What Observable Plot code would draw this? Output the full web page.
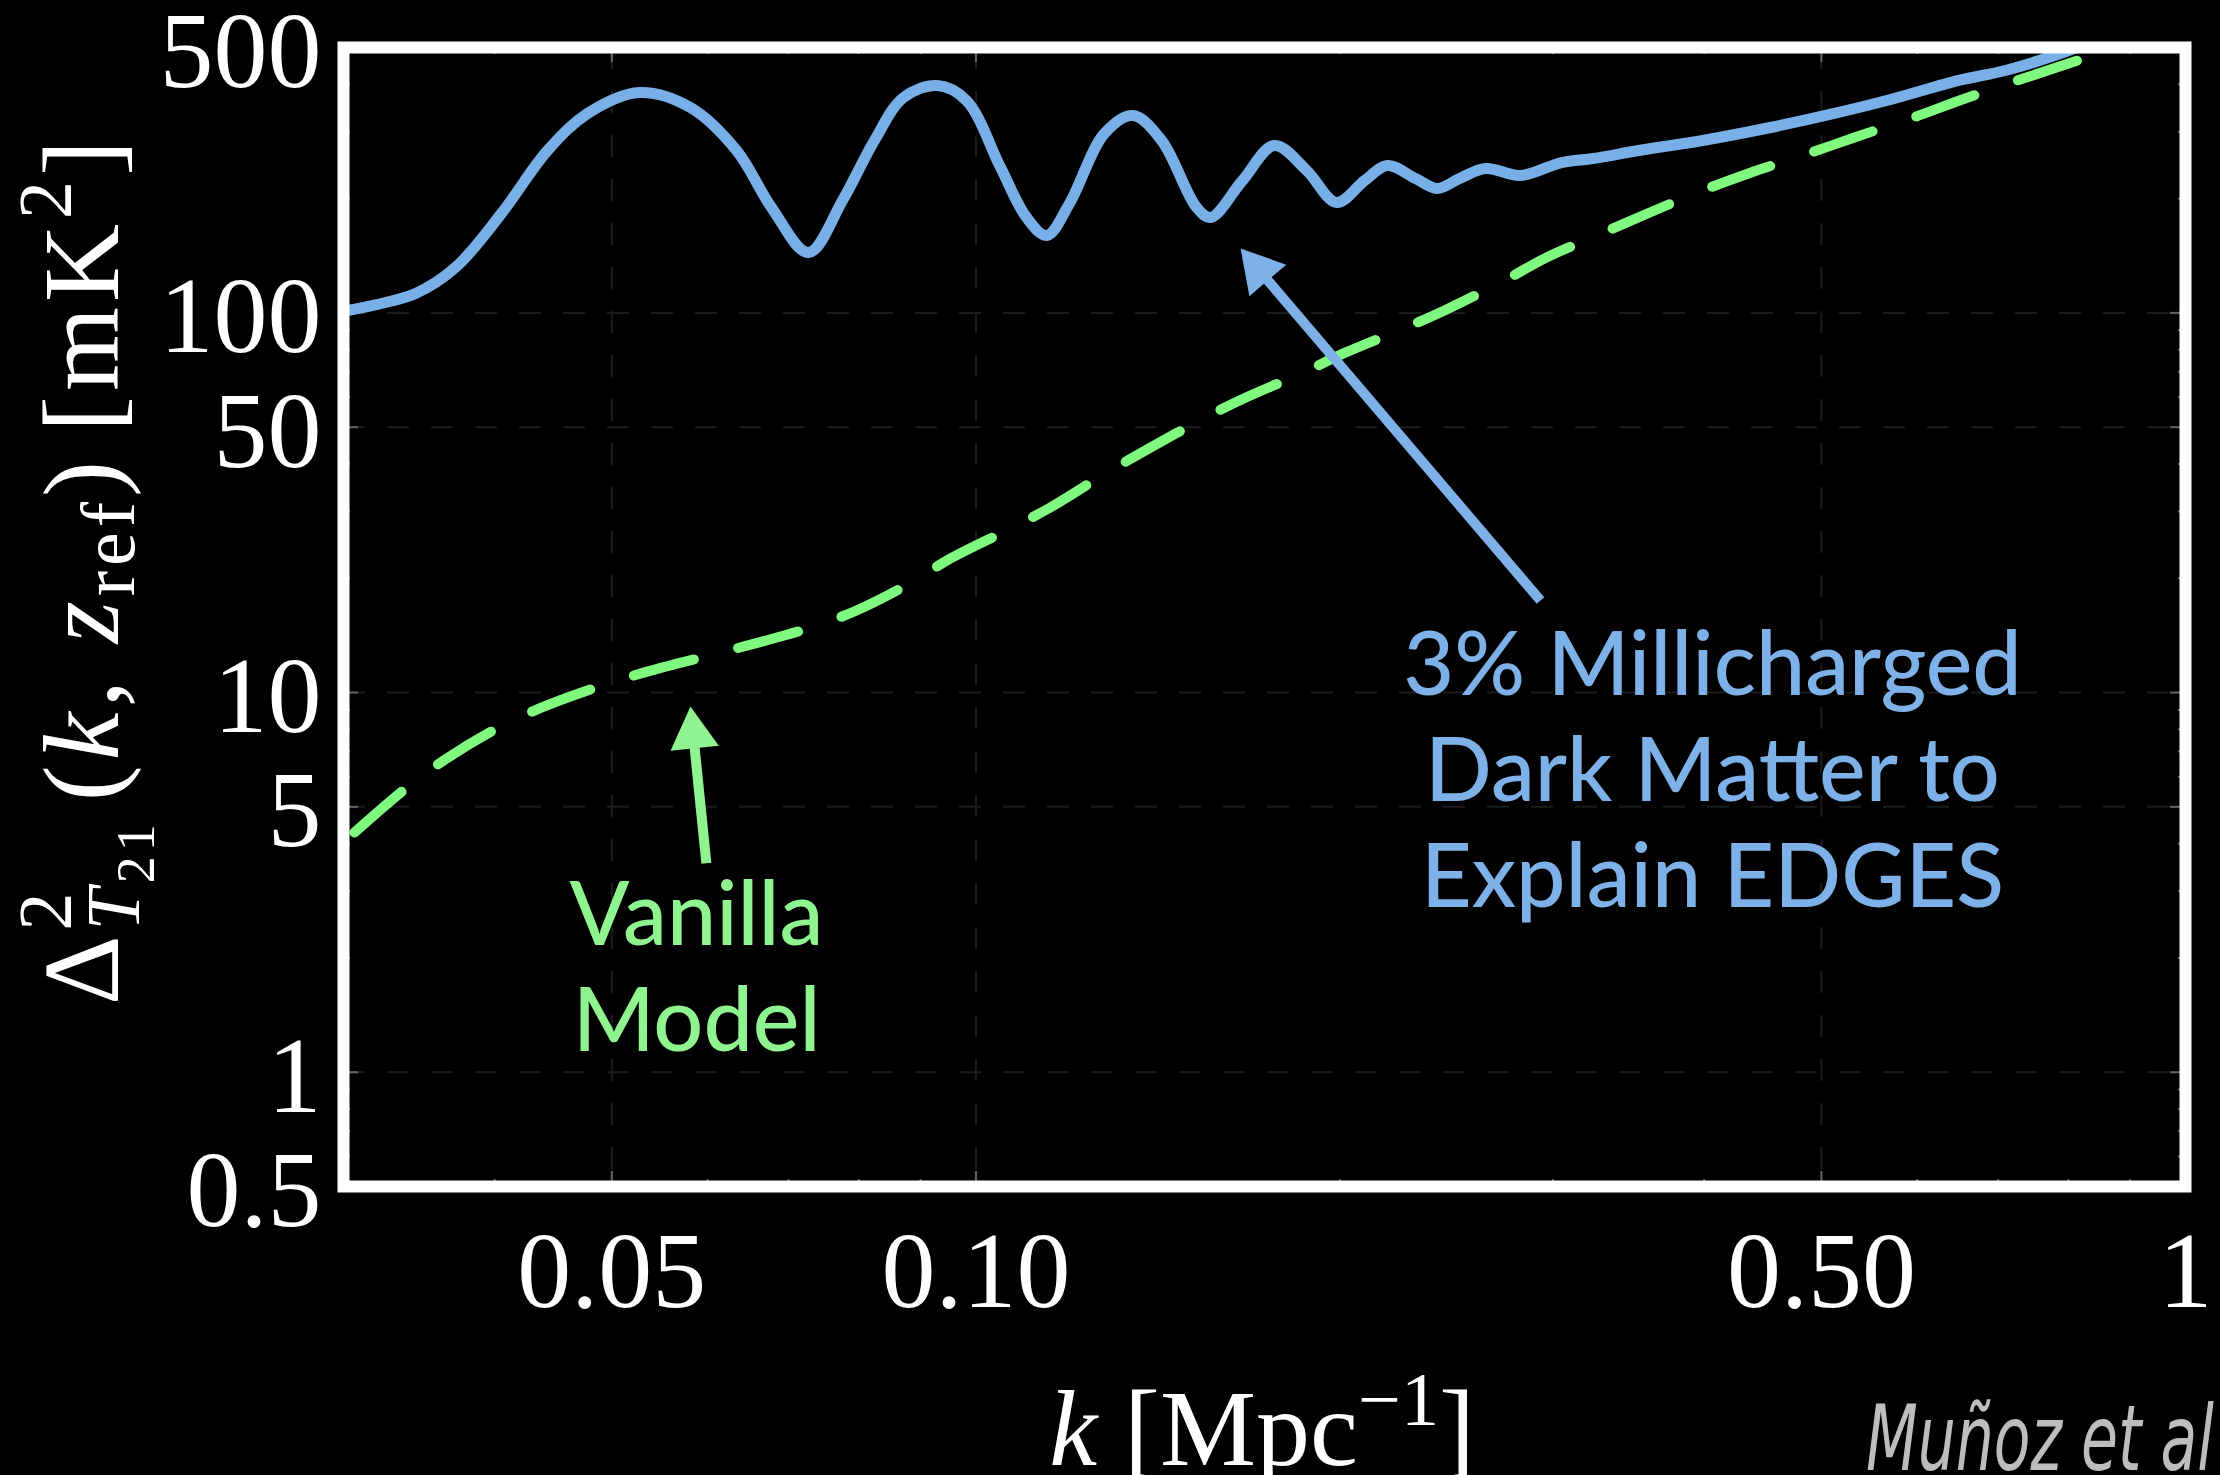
<!DOCTYPE html>
<html><head><meta charset="utf-8">
<script src="https://cdn.jsdelivr.net/npm/d3@7"></script>
<script src="https://cdn.jsdelivr.net/npm/@observablehq/plot@0.6"></script>
<style>html,body{margin:0;padding:0;background:#000;} #chart{width:2220px;height:1475px;overflow:hidden;}</style>
</head><body><div id="chart"></div>
<script>
// ---- data ----
const blueK = [0.03, 0.03441, 0.03713, 0.04052, 0.04424, 0.04774, 0.05271, 0.05807, 0.0634, 0.06776, 0.0727, 0.07757, 0.08243, 0.08712, 0.09295, 0.09822, 0.1048, 0.1101, 0.1144, 0.1195, 0.1277, 0.1348, 0.1424, 0.1522, 0.1563, 0.1661, 0.1765, 0.1877, 0.1987, 0.2096, 0.2189, 0.2309, 0.2407, 0.2511, 0.2638, 0.282, 0.3049, 0.324, 0.353, 0.3988, 0.4538, 0.504, 0.5704, 0.6493, 0.7097, 0.7748, 0.8506];
const blueV = [101, 112.5, 131.7, 182.7, 267.7, 335.1, 380.6, 347.5, 267.7, 189.5, 144.2, 197.7, 284.5, 369.2, 397.1, 362.5, 241.5, 178.4, 159.9, 194.1, 296.8, 331.1, 284.5, 189.5, 178.4, 223.2, 276.0, 237.2, 195.3, 223.2, 244.4, 225.9, 212.6, 225.9, 240.1, 230.1, 248.9, 255.1, 267.7, 284.5, 307.8, 331.1, 364.7, 409.4, 434.9, 473.2, 528];
const greenK = [0.03063, 0.03377, 0.03629, 0.04016, 0.04357, 0.04885, 0.05321, 0.05975, 0.06524, 0.0731, 0.07966, 0.08846, 0.09528, 0.1068, 0.1152, 0.128, 0.1381, 0.1542, 0.1665, 0.1866, 0.2013, 0.2257, 0.244, 0.2735, 0.2963, 0.329, 0.3591, 0.3988, 0.4352, 0.488, 0.5325, 0.5957, 0.6504, 0.7263, 0.7912, 0.8523, 0.918];
const greenV = [4.28, 5.59, 6.62, 8.04, 9.08, 10.38, 11.30, 12.45, 13.39, 14.84, 16.45, 19.5, 22.55, 27.05, 30.72, 37.77, 43.41, 52.7, 59.5, 69.7, 78.2, 90.98, 101.5, 121.7, 139.9, 161.9, 182.7, 210.1, 232.9, 263.0, 289.7, 327.0, 362.5, 409.4, 448.3, 485, 531];

const xTickValues = [0.05, 0.1, 0.5, 1];
const xTickLabels = ["0.05", "0.10", "0.50", "1"];
const yTickValues = [0.5, 1, 5, 10, 50, 100, 500];
const yTickLabels = ["0.5", "1", "5", "10", "50", "100", "500"];
const xGrid = [0.05, 0.1, 0.5];
const yGrid = [1, 5, 10, 50, 100];
const xMinor = [0.04, 0.06, 0.07, 0.08, 0.09, 0.2, 0.3, 0.4, 0.6, 0.7, 0.8, 0.9];
const yMinor = [0.6, 0.7, 0.8, 0.9, 2, 3, 4, 6, 7, 8, 9, 20, 30, 40, 60, 70, 80, 90, 200, 300, 400];

const annotText = ["3% Millicharged\nDark Matter to\nExplain EDGES", "Vanilla\nModel"];
const annotK = [0.4064, 0.05875];
const annotV = [15.57, 3.42];
const annotColor = ["#7db1e7", "#8ff48f"];

const arrowTailK = [0.2929, 0.05986];
const arrowTailV = [17.48, 3.55];
const arrowTipK = [0.1655, 0.05807];
const arrowTipV = [147.8, 9.19];
const arrowColor = ["#7db1e7", "#8ff48f"];

const BLUE = "#79afe7", GREEN = "#7ffa7f";

// ---- layout ----
const W = 2220, H = 1475;
const M = {top: 47, right: 35, bottom: 289, left: 343};
const FH = H - M.top - M.bottom;
const FW = W - M.left - M.right;
const HEAD_R = 18;
const HEAD_OFF = 2 * Math.sqrt(Math.PI * HEAD_R * HEAD_R / (3 * Math.sqrt(3)));

const blue = blueK.map((k, i) => ({k, v: blueV[i]}));
const green = greenK.map((k, i) => ({k, v: greenV[i]}));
const annots = annotText.map((t, i) => ({t, k: annotK[i], v: annotV[i], c: annotColor[i]}));
const serif = "'Liberation Serif', 'DejaVu Serif', serif";

function build(heads) {
  return Plot.plot({
    width: W, height: H,
    marginTop: M.top, marginRight: M.right, marginBottom: M.bottom, marginLeft: M.left,
    style: {background: "black", color: "white", fontFamily: serif},
    x: {type: "log", domain: [0.03, 1]},
    y: {type: "log", domain: [0.5, 500]},
    marks: [
      Plot.ruleX(xGrid, {stroke: "#1c1c1c", strokeWidth: 2, strokeDasharray: "22,22"}),
      Plot.ruleY(yGrid, {stroke: "#1c1c1c", strokeWidth: 2, strokeDasharray: "22,22"}),
      Plot.tickX(xMinor, {stroke: "#666", strokeWidth: 2, insetTop: FH - 7}),
      Plot.tickX(xMinor, {stroke: "#666", strokeWidth: 2, insetBottom: FH - 7}),
      Plot.tickX(xGrid, {stroke: "#666", strokeWidth: 2, insetTop: FH - 15}),
      Plot.tickX(xGrid, {stroke: "#666", strokeWidth: 2, insetBottom: FH - 15}),
      Plot.tickY(yMinor, {stroke: "#666", strokeWidth: 2, insetRight: FW - 7}),
      Plot.tickY(yMinor, {stroke: "#666", strokeWidth: 2, insetLeft: FW - 7}),
      Plot.tickY(yGrid, {stroke: "#666", strokeWidth: 2, insetRight: FW - 15}),
      Plot.tickY(yGrid, {stroke: "#666", strokeWidth: 2, insetLeft: FW - 15}),
      Plot.line(green, {x: "k", y: "v", stroke: GREEN, strokeWidth: 10, strokeDasharray: "62,46", curve: "catmull-rom", clip: true}),
      Plot.line(blue, {x: "k", y: "v", stroke: BLUE, strokeWidth: 11, curve: "catmull-rom", clip: true}),
      Plot.link(heads, {x1: "x1", y1: "y1", x2: "x", y2: "y", stroke: "c", strokeWidth: 10}),
      Plot.dot(heads, {x: "x", y: "y", symbol: "triangle", r: HEAD_R, fill: "c", stroke: null, rotate: "rotate"}),
      Plot.text(annots, {x: "k", y: "v", text: "t", fill: "c", fontSize: 88, fontFamily: "Lato, 'Open Sans', sans-serif", fontWeight: 500, lineAnchor: "top", lineHeight: 106 / 88, textAnchor: "middle"}),
      Plot.frame({stroke: "white", strokeWidth: 12}),
      Plot.axisX(xTickValues, {anchor: "bottom", tickSize: 0, tickPadding: 44, label: null, fontSize: 108, fontFamily: serif, fill: "white",
        tickFormat: d => xTickLabels[xTickValues.indexOf(d)]}),
      Plot.axisY(yTickValues, {anchor: "left", tickSize: 0, tickPadding: 22, label: null, fontSize: 108, fontFamily: serif, fill: "white", dy: 5,
        tickFormat: d => yTickLabels[yTickValues.indexOf(d)]})
    ]
  });
}

const probe = build([]);
const sx = probe.scale("x"), sy = probe.scale("y");
const heads = arrowTipK.map((k, i) => {
  const tx = sx.apply(arrowTailK[i]), ty = sy.apply(arrowTailV[i]);
  const hx = sx.apply(k), hy = sy.apply(arrowTipV[i]);
  const L = Math.hypot(hx - tx, hy - ty), ux = (hx - tx) / L, uy = (hy - ty) / L;
  const cx = hx - ux * HEAD_OFF, cy = hy - uy * HEAD_OFF;
  return {x1: arrowTailK[i], y1: arrowTailV[i], x: sx.invert(cx), y: sy.invert(cy),
          rotate: Math.atan2(ux, -uy) * 180 / Math.PI, c: arrowColor[i]};
});
const chart = build(heads);
document.getElementById("chart").appendChild(chart);

// ---- axis titles and caption ----
const svg = d3.select(chart);
const yl = svg.append("text").attr("transform", "translate(118,570) rotate(-90)")
  .attr("text-anchor", "middle").attr("fill", "white").attr("font-family", serif).attr("font-size", 108)
  .attr("letter-spacing", 5);
yl.append("tspan").text("Δ");
yl.append("tspan").attr("font-size", 76).attr("dy", -47).text("2");
yl.append("tspan").attr("font-size", 76).attr("font-style", "italic").attr("dx", -43).attr("dy", 68).text("T");
yl.append("tspan").attr("font-size", 54).attr("dy", 15).text("21");
yl.append("tspan").attr("dy", -36).attr("dx", 18).text("(");
yl.append("tspan").attr("font-style", "italic").text("k");
yl.append("tspan").text(", ");
yl.append("tspan").attr("font-style", "italic").text("z");
yl.append("tspan").attr("font-size", 76).attr("dy", 16).text("ref");
yl.append("tspan").attr("dy", -16).text(")");
yl.append("tspan").attr("dx", 24).text("[mK");
yl.append("tspan").attr("font-size", 76).attr("dy", -47).text("2");
yl.append("tspan").attr("dy", 47).text("]");

const xl = svg.append("text").attr("x", 1262).attr("y", 1465)
  .attr("text-anchor", "middle").attr("fill", "white").attr("font-family", serif).attr("font-size", 108);
xl.append("tspan").attr("font-style", "italic").text("k");
xl.append("tspan").text(" [Mpc");
xl.append("tspan").attr("font-size", 76).attr("dy", -40).text("−1");
xl.append("tspan").attr("dy", 40).text("]");

svg.append("text").attr("x", 1866).attr("y", 1470).attr("fill", "#bdbdbd")
  .attr("text-anchor", "start")
  .attr("font-family", "'Liberation Sans Narrow', 'DejaVu Sans Condensed', 'Roboto', sans-serif")
  .attr("font-style", "italic").attr("font-size", 90)
  .attr("textLength", 348).attr("lengthAdjust", "spacingAndGlyphs")
  .text("Muñoz et al");
</script></body></html>
